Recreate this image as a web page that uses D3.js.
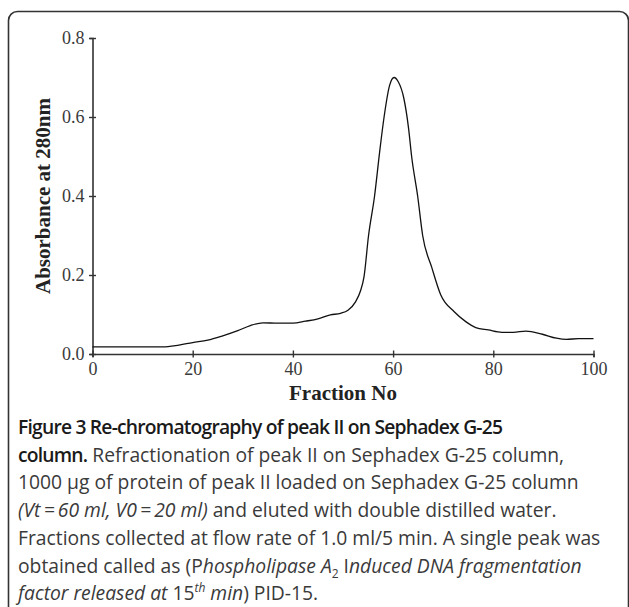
<!DOCTYPE html>
<html>
<head>
<meta charset="utf-8">
<script src="https://cdn.jsdelivr.net/npm/d3@7"></script>
<style>
  body { margin: 0; background: #fff; }
  svg { display: block; }
</style>
</head>
<body>
<div id="chart"></div>
<script>
// fraction number and absorbance
var fractions = [0, 14, 17, 20, 23, 26, 29, 31.5, 34, 37, 40, 42.5, 45, 47.5, 49.5, 51, 52.5, 53.5, 54.2, 55.1, 56.3, 57.3, 58.2, 59.3, 60.2, 61, 62.1, 63.1, 63.7, 64.9, 65.9, 67.7, 69.5, 72.2, 74.5, 76.5, 79, 81.7, 84, 86.5, 89.8, 92.6, 94.6, 97, 100];
var absorbance = [0.018, 0.018, 0.022, 0.029, 0.035, 0.046, 0.059, 0.072, 0.079, 0.078, 0.078, 0.083, 0.089, 0.099, 0.103, 0.111, 0.132, 0.16, 0.196, 0.30, 0.40, 0.51, 0.60, 0.68, 0.70, 0.69, 0.65, 0.57, 0.50, 0.40, 0.30, 0.22, 0.15, 0.107, 0.082, 0.067, 0.061, 0.055, 0.055, 0.058, 0.050, 0.040, 0.037, 0.039, 0.039];
var xTicks = [0, 20, 40, 60, 80, 100];
var yTicks = [0, 0.2, 0.4, 0.6, 0.8];

var W = 629, H = 607;
var svg = d3.select("#chart").append("svg")
    .attr("width", W)
    .attr("height", H);

// figure frame (open at the bottom, cut by the page)
svg.append("rect")
    .attr("x", 8.5).attr("y", 11.5)
    .attr("width", 620).attr("height", 700)
    .attr("rx", 9)
    .attr("fill", "none")
    .attr("stroke", "#333")
    .attr("stroke-width", 1.6);

var x = d3.scaleLinear().domain([0, 100]).range([92.5, 593.5]);
var y = d3.scaleLinear().domain([0, 0.8]).range([354, 38]);

var axisColor = "#333";

// y axis
var gy = svg.append("g")
    .attr("transform", "translate(" + x(0) + ",0)")
    .call(d3.axisLeft(y).tickValues(yTicks).tickFormat(d3.format(".1f")).tickSize(3).tickPadding(5));
gy.selectAll("line").attr("x2", -3.5).attr("x1", 3.5);

// x axis
var gx = svg.append("g")
    .attr("transform", "translate(0," + y(0) + ")")
    .call(d3.axisBottom(x).tickValues(xTicks).tickSize(3).tickPadding(5));
gx.selectAll("line").attr("y1", -3.5).attr("y2", 3.5);

[gx, gy].forEach(function(g) {
  g.select(".domain").attr("stroke", axisColor).attr("stroke-width", 1.6);
  g.selectAll("line").attr("stroke", axisColor).attr("stroke-width", 1.4);
  g.selectAll("text")
    .attr("fill", "#3a3a3a")
    .style("font-family", "'Liberation Serif', serif")
    .style("font-size", "18px");
});

// trace
var data = fractions.map(function(f, i) { return {f: f, a: absorbance[i]}; });
svg.append("path")
    .datum(data)
    .attr("fill", "none")
    .attr("stroke", "#111")
    .attr("stroke-width", 1.3)
    .attr("d", d3.line()
      .x(function(d) { return x(d.f); })
      .y(function(d) { return y(d.a); })
      .curve(d3.curveMonotoneX));

// axis titles
svg.append("text")
    .attr("transform", "translate(50," + ((y(0) + y(0.8)) / 2) + ") rotate(-90)")
    .attr("text-anchor", "middle")
    .style("font-family", "'Liberation Serif', serif")
    .style("font-weight", "bold")
    .style("font-size", "21px")
    .attr("fill", "#222")
    .text("Absorbance at 280nm");

svg.append("text")
    .attr("x", (x(0) + x(100)) / 2)
    .attr("y", 400)
    .attr("text-anchor", "middle")
    .style("font-family", "'Liberation Serif', serif")
    .style("font-weight", "bold")
    .style("font-size", "21px")
    .attr("fill", "#222")
    .text("Fraction No");

// caption
var capLines = [
  [{t: "Figure 3 Re-chromatography of peak II on Sephadex G-25", b: true}],
  [{t: "column.", b: true}, {t: " Refractionation of peak II on Sephadex G-25 column,"}],
  [{t: "1000 \u00b5g of protein of peak II loaded on Sephadex G-25 column"}],
  [{t: "(Vt\u2009=\u200960 ml, V0\u2009=\u200920 ml)", i: true}, {t: " and eluted with double distilled water."}],
  [{t: "Fractions collected at flow rate of 1.0 ml/5 min. A single peak was"}],
  [{t: "obtained called as (P"}, {t: "hospholipase A", i: true}, {t: "2", sub: true}, {t: " I"}, {t: "nduced DNA fragmentation", i: true}],
  [{t: "factor released at", i: true}, {t: " 15"}, {t: "th", i: true, sup: true}, {t: " min", i: true}, {t: ") PID-15."}]
];

var cap = svg.append("g")
    .style("font-family", "'Open Sans', sans-serif")
    .style("font-size", "19.3px");

capLines.forEach(function(line, li) {
  var txt = cap.append("text")
      .attr("x", 18)
      .attr("y", 434 + li * 27.7);
  line.forEach(function(s, k) {
    var ts = txt.append("tspan")
        .text(s.t)
        .attr("fill", s.b ? "#1a1a1a" : "#3a3a3a")
        .style("font-weight", s.b ? 600 : "normal")
        .style("letter-spacing", s.b ? "-0.8px" : null)
        .style("font-style", s.i ? "italic" : "normal");
    var prev = line[k - 1];
    if (s.sub) ts.attr("dy", 5).style("font-size", "12px");
    else if (s.sup) ts.attr("dy", -8).style("font-size", "12px");
    else if (prev && prev.sub) ts.attr("dy", -5);
    else if (prev && prev.sup) ts.attr("dy", 8);
  });
});
</script>
</body>
</html>
